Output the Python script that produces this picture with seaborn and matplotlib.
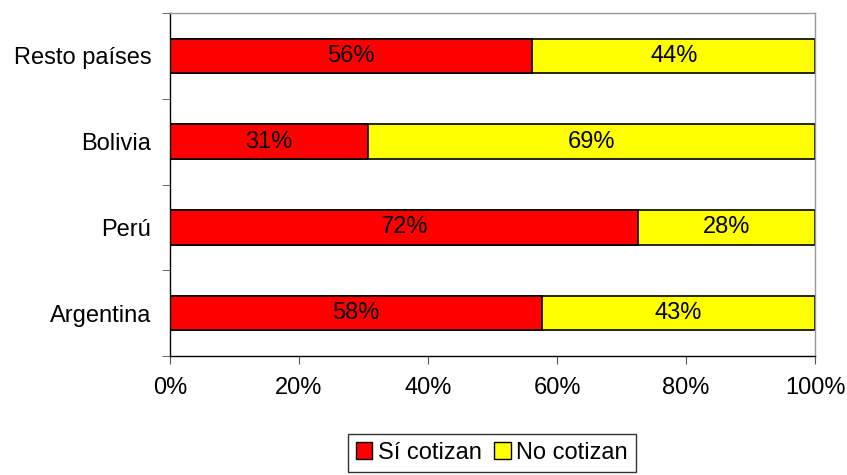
import matplotlib
matplotlib.use("Agg")
import matplotlib.pyplot as plt
import seaborn as sns
import pandas as pd
from matplotlib.patches import Patch
from matplotlib.ticker import FixedLocator, PercentFormatter

# data, top to bottom as drawn
countries = ['Resto países', 'Bolivia', 'Perú', 'Argentina']
si_share = [56.2, 30.7, 72.6, 57.6]   # bar length
no_share = [43.8, 69.3, 27.4, 42.4]
si_label = ['56%', '31%', '72%', '58%']
no_label = ['44%', '69%', '28%', '43%']
series = ['Sí cotizan', 'No cotizan']
red = '#FF0000'
yellow = '#FFFF00'

sns.set_style('white')
plt.rcParams['font.family'] = ['Liberation Sans', 'DejaVu Sans']
plt.rcParams['text.color'] = 'black'
plt.rcParams['xtick.color'] = 'black'
plt.rcParams['ytick.color'] = 'black'
fs = 17

df = pd.DataFrame({'pais': countries, 'si': si_share, 'no': no_share})
df['total'] = df['si'] + df['no']

fig = plt.figure(figsize=(8.47, 4.75), dpi=100)
ax = fig.add_axes([170 / 847, 1 - 356 / 475, 645 / 847, 343 / 475])

sns.barplot(data=df, x='total', y='pais', order=countries, color=yellow,
            width=0.4, edgecolor='black', linewidth=1.2, saturation=1, ax=ax)
sns.barplot(data=df, x='si', y='pais', order=countries, color=red,
            width=0.4, edgecolor='black', linewidth=1.2, saturation=1, ax=ax)

for i, row in df.iterrows():
    ax.text(row['si'] / 2, i, si_label[i], ha='center', va='center', fontsize=fs)
    ax.text(row['si'] + row['no'] / 2, i, no_label[i], ha='center', va='center', fontsize=fs)

ax.set_xlim(0, 100)
ax.set_ylim(len(countries) - 0.5, -0.5)
ax.set_xticks(range(0, 101, 20))
ax.xaxis.set_major_formatter(PercentFormatter(100, decimals=0))
ax.set_xlabel('')
ax.set_ylabel('')
ax.tick_params(axis='x', labelsize=fs, length=6, color='#555555', labelcolor='black', pad=9, bottom=True)
ax.tick_params(axis='y', which='major', labelsize=fs, length=0, pad=13.5, labelcolor='black')
ax.yaxis.set_minor_locator(FixedLocator([i - 0.5 for i in range(len(countries) + 1)]))
ax.tick_params(axis='y', which='minor', length=6, color='#555555', left=True)

for side in ['top', 'right']:
    ax.spines[side].set_color('#999999')
    ax.spines[side].set_linewidth(1)
for side in ['left', 'bottom']:
    ax.spines[side].set_color('black')
    ax.spines[side].set_linewidth(1)

handles = [Patch(facecolor=red, edgecolor='black', label=series[0]),
           Patch(facecolor=yellow, edgecolor='black', label=series[1])]
leg = fig.legend(handles=handles, loc='center', bbox_to_anchor=(492 / 847, 1 - 453 / 475),
                 ncol=2, fontsize=fs, frameon=True, fancybox=False, handlelength=0.7,
                 handleheight=0.7, handletextpad=0.25, columnspacing=0.5,
                 borderpad=0.35, borderaxespad=0)
leg.get_frame().set_edgecolor('black')
leg.get_frame().set_linewidth(1)

fig.savefig('out.png', dpi=100)
